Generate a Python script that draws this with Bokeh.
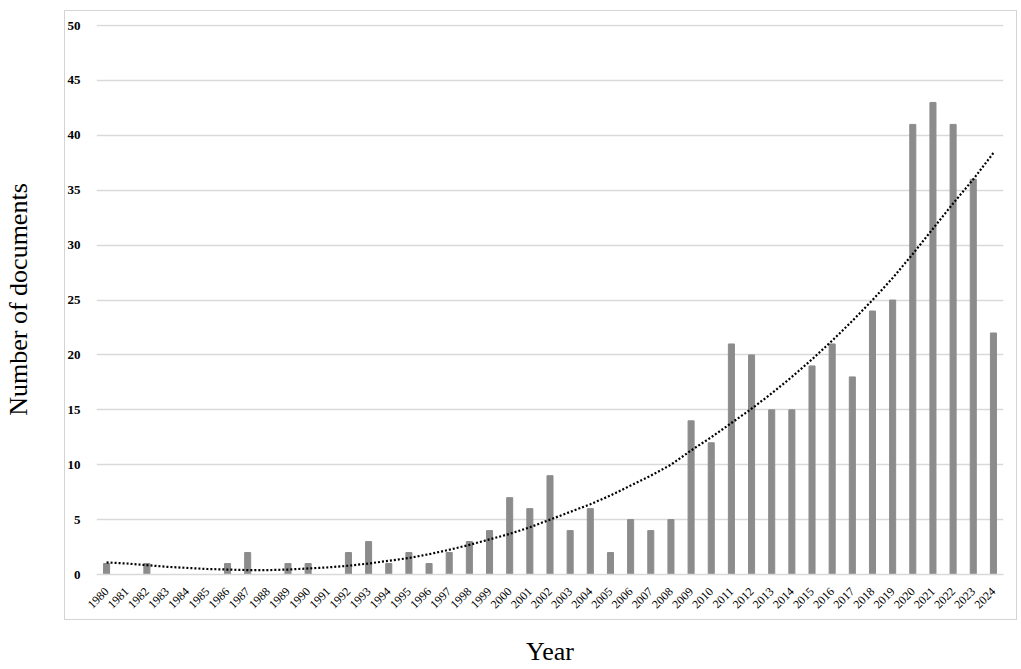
import math
from bokeh.plotting import figure
from bokeh.models import FixedTicker, FactorRange, Range1d, InlineStyleSheet
from bokeh.embed import file_html
from bokeh.resources import INLINE

years = [str(y) for y in range(1980, 2025)]
documents = [1, 0, 1, 0, 0, 0, 1, 2, 0, 1, 1, 0, 2, 3, 1, 2, 1, 2, 3, 4,
             7, 6, 9, 4, 6, 2, 5, 4, 5, 14, 12, 21, 20, 15, 15, 19, 21, 18, 24, 25,
             41, 43, 41, 36, 22]
trend = [1.1, 1.0, 0.85, 0.7, 0.6, 0.5, 0.45, 0.4, 0.4, 0.45, 0.55, 0.65, 0.8, 1.0, 1.25,
         1.5, 1.85, 2.25, 2.7, 3.2, 3.7, 4.3, 5.0, 5.7, 6.4, 7.2, 8.1, 9.0, 10.0, 11.3,
         12.5, 13.8, 15.1, 16.5, 18.0, 19.6, 21.3, 23.1, 25.0, 27.0, 29.2, 31.5, 33.8, 36.0, 38.4]
y_ticks = [0, 5, 10, 15, 20, 25, 30, 35, 40, 45, 50]

p = figure(width=1021, height=669, x_range=FactorRange(*years, range_padding=0),
           y_range=Range1d(0, 50.1), output_backend="svg", toolbar_location=None,
           min_border_left=96, min_border_right=18, min_border_top=24, min_border_bottom=94)

p.vbar(x=years, top=documents, width=0.3, color="#8c8c8c")
p.line(x=years, y=trend, line_color="black", line_width=2.2, line_dash="2 2")

p.outline_line_color = None
p.xgrid.grid_line_color = None
p.ygrid.grid_line_color = "#d9d9d9"
p.ygrid.grid_line_width = 1.5
p.yaxis.ticker = FixedTicker(ticks=y_ticks)

p.yaxis.axis_line_color = None
p.yaxis.major_tick_line_color = None
p.yaxis.minor_tick_line_color = None
p.yaxis.major_label_text_font = "Liberation Serif"
p.yaxis.major_label_text_font_style = "bold"
p.yaxis.major_label_text_font_size = "13px"
p.yaxis.major_label_text_color = "black"
p.yaxis.major_label_standoff = 10
p.yaxis.axis_label = "Number of documents"
p.yaxis.axis_label_text_font = "Liberation Serif"
p.yaxis.axis_label_text_font_style = "normal"
p.yaxis.axis_label_text_font_size = "26px"
p.yaxis.axis_label_text_color = "black"
p.yaxis.axis_label_standoff = 32

p.xaxis.axis_line_color = "#d9d9d9"
p.xaxis.axis_line_width = 1.5
p.xaxis.major_tick_line_color = None
p.xaxis.minor_tick_line_color = None
p.xaxis.major_label_orientation = math.pi / 4
p.xaxis.major_label_text_font = "Liberation Serif"
p.xaxis.major_label_text_font_size = "12px"
p.xaxis.major_label_text_color = "black"
p.xaxis.major_label_standoff = 9
p.xaxis.axis_label = "Year"
p.xaxis.axis_label_text_font = "Liberation Serif"
p.xaxis.axis_label_text_font_style = "normal"
p.xaxis.axis_label_text_font_size = "26px"
p.xaxis.axis_label_text_color = "black"
p.xaxis.axis_label_standoff = 22

# light grey chart-area border drawn around plot + tick labels (as in the source chart)
p.stylesheets = [InlineStyleSheet(css="""
:host { position: relative; }
:host::after {
  content: "";
  position: absolute;
  left: 64px; top: 10px; width: 953px; height: 610px;
  box-sizing: border-box;
  border: 1.5px solid #d4d4d4;
  pointer-events: none;
}
""")]

open("out.html", "w").write(file_html(p, INLINE))
